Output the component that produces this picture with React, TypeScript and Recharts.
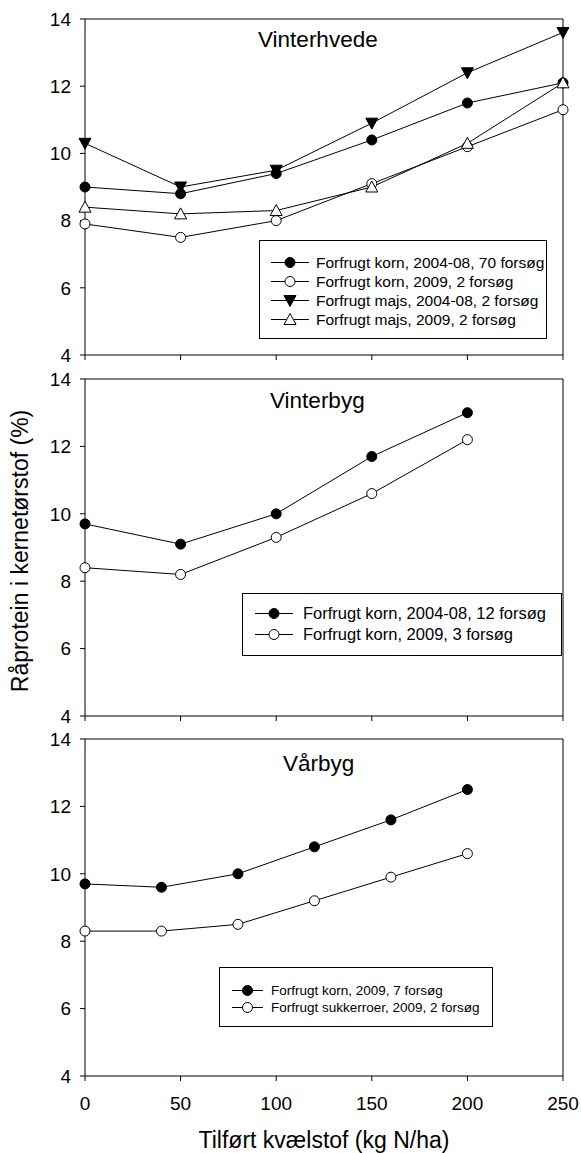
import React from "react";
import { LineChart, Line, XAxis, YAxis, ReferenceLine, Legend } from "recharts";

const FONT = '"Liberation Sans", Arial, Helvetica, sans-serif';

// Vinterhvede
const hvedeN = [0, 50, 100, 150, 200, 250];
const hvedeKorn0408 = [9.0, 8.8, 9.4, 10.4, 11.5, 12.1];
const hvedeKorn2009 = [7.9, 7.5, 8.0, 9.1, 10.2, 11.3];
const hvedeMajs0408 = [10.3, 9.0, 9.5, 10.9, 12.4, 13.6];
const hvedeMajs2009 = [8.4, 8.2, 8.3, 9.0, 10.3, 12.1];

// Vinterbyg
const vinterbygN = [0, 50, 100, 150, 200];
const vinterbygKorn0408 = [9.7, 9.1, 10.0, 11.7, 13.0];
const vinterbygKorn2009 = [8.4, 8.2, 9.3, 10.6, 12.2];

// Vårbyg
const vaarbygN = [0, 40, 80, 120, 160, 200];
const vaarbygKorn = [9.7, 9.6, 10.0, 10.8, 11.6, 12.5];
const vaarbygSukkerroer = [8.3, 8.3, 8.5, 9.2, 9.9, 10.6];

const xTicks = [0, 50, 100, 150, 200, 250];
const yTicks = [4, 6, 8, 10, 12, 14];

type MarkerKind = "filled" | "open" | "down" | "up";

interface SeriesDef {
  key: string;
  label: string;
  values: number[];
  kind: MarkerKind;
}

interface LegendDef {
  left: number;
  top: number;
  width: number;
  height: number;
  padTop: number;
  rowH: number;
  fontSize: number;
  lineX1: number;
  lineX2: number;
  textX: number;
}

function Marker({ cx, cy, kind }: { cx: number; cy: number; kind: MarkerKind }) {
  if (cx == null || cy == null) return <g />;
  if (kind === "down") {
    return <polygon points={`${cx - 6},${cy - 5} ${cx + 6},${cy - 5} ${cx},${cy + 6}`} fill="#000" stroke="#000" />;
  }
  if (kind === "up") {
    return <polygon points={`${cx - 6},${cy + 5} ${cx + 6},${cy + 5} ${cx},${cy - 6}`} fill="#fff" stroke="#000" />;
  }
  return <circle cx={cx} cy={cy} r={5} fill={kind === "filled" ? "#000" : "#fff"} stroke="#000" />;
}

function LegendBox({ series, def }: { series: SeriesDef[]; def: LegendDef }) {
  return (
    <div
      style={{
        width: def.width,
        height: def.height,
        boxSizing: "border-box",
        border: "1px solid #000",
        background: "#fff",
        paddingTop: def.padTop,
        fontFamily: FONT,
        color: "#000",
      }}
    >
      {series.map((s) => (
        <div key={s.key} style={{ position: "relative", height: def.rowH, fontSize: def.fontSize, lineHeight: `${def.rowH}px`, whiteSpace: "nowrap" }}>
          <svg width={def.textX} height={def.rowH} style={{ position: "absolute", left: 0, top: 0 }}>
            <line x1={def.lineX1} x2={def.lineX2} y1={def.rowH / 2} y2={def.rowH / 2} stroke="#000" />
            <Marker cx={(def.lineX1 + def.lineX2) / 2} cy={def.rowH / 2} kind={s.kind} />
          </svg>
          <span style={{ position: "absolute", left: def.textX, top: 0 }}>{s.label}</span>
        </div>
      ))}
    </div>
  );
}

// keeps the tick lines but draws no tick labels
const NoLabel = () => <g />;

interface PanelProps {
  top: number;
  height: number;
  xAxisHeight: number;
  bottom: number;
  xs: number[];
  series: SeriesDef[];
  showTickLabels: boolean;
  legend: LegendDef;
}

function Panel({ top, height, xAxisHeight, bottom, xs, series, showTickLabels, legend }: PanelProps) {
  const data = xs.map((n, i) => {
    const row: Record<string, number> = { n };
    series.forEach((s) => {
      row[s.key] = s.values[i];
    });
    return row;
  });

  return (
    <div style={{ position: "absolute", left: 0, top }}>
      <LineChart width={581} height={height} data={data} margin={{ top: 19, right: 18, bottom, left: 35 }}>
        <XAxis
          dataKey="n"
          type="number"
          domain={[0, 250]}
          ticks={xTicks}
          interval={0}
          height={xAxisHeight}
          tickSize={5}
          tickMargin={16}
          stroke="#000"
          tick={showTickLabels ? { fontSize: 19, fill: "#000", fontFamily: FONT } : NoLabel}
        />
        <YAxis
          type="number"
          domain={[4, 14]}
          ticks={yTicks}
          interval={0}
          width={50}
          tickSize={5}
          tickMargin={9}
          stroke="#000"
          tick={{ fontSize: 19, fill: "#000", fontFamily: FONT }}
        />
        <ReferenceLine y={14} stroke="#000" />
        <ReferenceLine x={250} stroke="#000" />
        {series.map((s) => (
          <Line
            key={s.key}
            dataKey={s.key}
            name={s.label}
            type="linear"
            stroke="#000"
            strokeWidth={1}
            isAnimationActive={false}
            activeDot={false}
            dot={(p: any) => <Marker key={`${s.key}-${p.index}`} cx={p.cx} cy={p.cy} kind={s.kind} />}
          />
        ))}
        <Legend
          layout="vertical"
          align="center"
          verticalAlign="middle"
          wrapperStyle={{ left: legend.left, top: legend.top, width: legend.width, height: legend.height }}
          content={() => <LegendBox series={series} def={legend} />}
        />
      </LineChart>
    </div>
  );
}

const hvedeSeries: SeriesDef[] = [
  { key: "k0408", label: "Forfrugt korn, 2004-08, 70 forsøg", values: hvedeKorn0408, kind: "filled" },
  { key: "k2009", label: "Forfrugt korn, 2009, 2 forsøg", values: hvedeKorn2009, kind: "open" },
  { key: "m0408", label: "Forfrugt majs, 2004-08, 2 forsøg", values: hvedeMajs0408, kind: "down" },
  { key: "m2009", label: "Forfrugt majs, 2009, 2 forsøg", values: hvedeMajs2009, kind: "up" },
];

const vinterbygSeries: SeriesDef[] = [
  { key: "k0408", label: "Forfrugt korn, 2004-08, 12 forsøg", values: vinterbygKorn0408, kind: "filled" },
  { key: "k2009", label: "Forfrugt korn, 2009, 3 forsøg", values: vinterbygKorn2009, kind: "open" },
];

const vaarbygSeries: SeriesDef[] = [
  { key: "korn", label: "Forfrugt korn, 2009, 7 forsøg", values: vaarbygKorn, kind: "filled" },
  { key: "sukker", label: "Forfrugt sukkerroer, 2009, 2 forsøg", values: vaarbygSukkerroer, kind: "open" },
];

export default function App() {
  return (
    <div style={{ position: "absolute", left: 0, top: 0, width: 581, height: 1153, background: "#fff", fontFamily: FONT }}>
      <Panel
        top={0}
        height={375}
        xAxisHeight={10}
        bottom={10}
        xs={hvedeN}
        series={hvedeSeries}
        showTickLabels={false}
        legend={{ left: 259, top: 240, width: 288, height: 99, padTop: 12, rowH: 19, fontSize: 15.5, lineX1: 11, lineX2: 49, textX: 56 }}
      />
      <Panel
        top={360}
        height={375}
        xAxisHeight={10}
        bottom={9}
        xs={vinterbygN}
        series={vinterbygSeries}
        showTickLabels={false}
        legend={{ left: 242, top: 233, width: 320, height: 63, padTop: 9, rowH: 21, fontSize: 16.5, lineX1: 12, lineX2: 50, textX: 60 }}
      />
      <Panel
        top={720}
        height={433}
        xAxisHeight={40}
        bottom={37}
        xs={vaarbygN}
        series={vaarbygSeries}
        showTickLabels={true}
        legend={{ left: 219, top: 247, width: 274, height: 60, padTop: 14, rowH: 17, fontSize: 13.5, lineX1: 12, lineX2: 43, textX: 51 }}
      />
      <svg width={581} height={1153} style={{ position: "absolute", left: 0, top: 0, pointerEvents: "none" }}>
        <text x={258} y={47} fontSize={22.5} fill="#000">Vinterhvede</text>
        <text x={270} y={408} fontSize={22.5} fill="#000">Vinterbyg</text>
        <text x={283} y={771} fontSize={22.5} fill="#000">Vårbyg</text>
        <text transform="translate(28,551) rotate(-90)" textAnchor="middle" fontSize={23} fill="#000">
          Råprotein i kernetørstof (%)
        </text>
        <text x={324} y={1148} textAnchor="middle" fontSize={23} fill="#000">
          Tilført kvælstof (kg N/ha)
        </text>
      </svg>
    </div>
  );
}
